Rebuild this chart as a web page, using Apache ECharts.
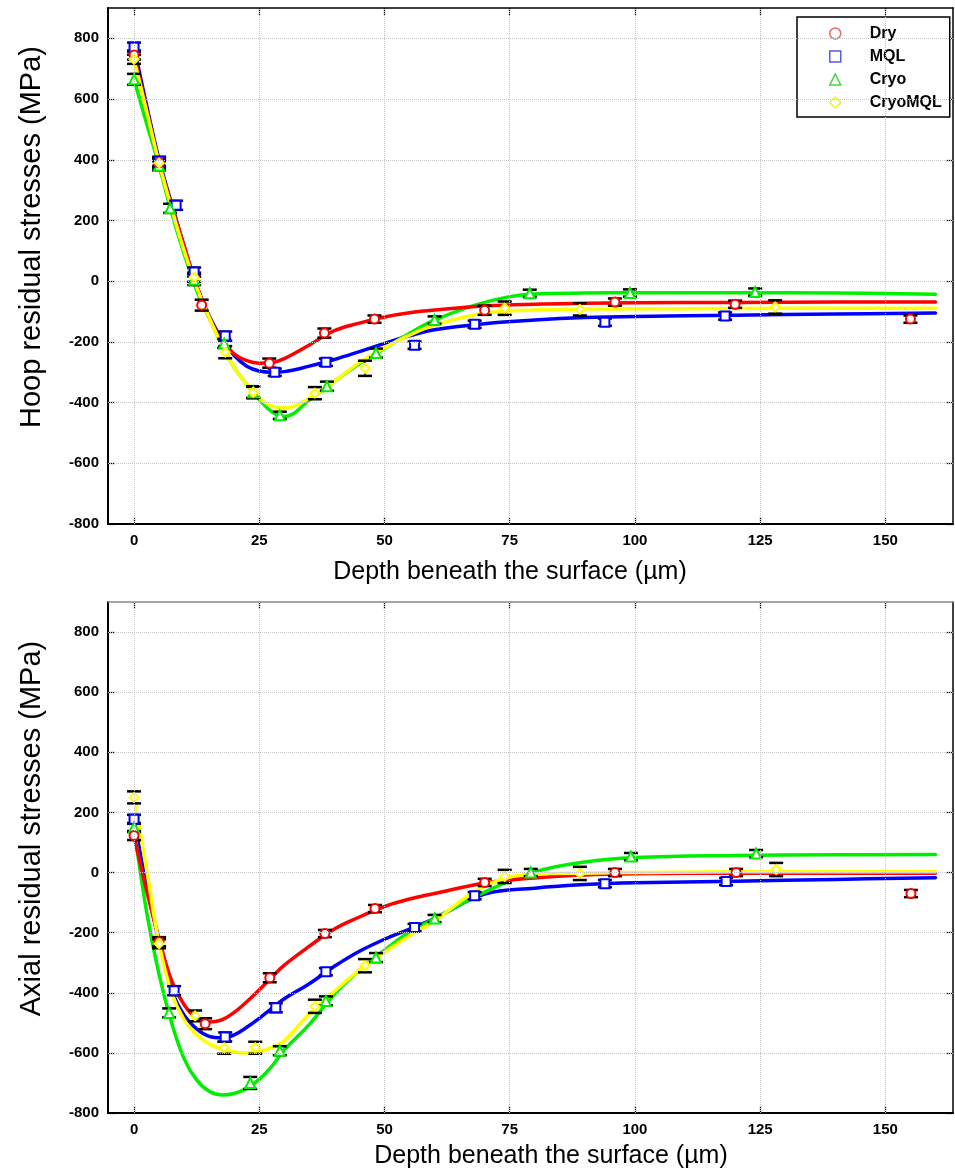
<!DOCTYPE html>
<html><head><meta charset="utf-8">
<script src="https://cdn.jsdelivr.net/npm/echarts@6/dist/echarts.min.js"></script>
<style>html,body{margin:0;padding:0;background:#fff}#c{width:955px;height:1175px}</style>
</head><body><div id="c"></div>
<script>
// ---------- DATA ----------
const seriesNames = ['Dry', 'MQL', 'Cryo', 'CryoMQL'];
const xTicks = [0, 25, 50, 75, 100, 125, 150];
const yTicks = [-800, -600, -400, -200, 0, 200, 400, 600, 800];

// Hoop residual stresses: measured points (depth, stress, error)
const hoopDryX = [0, 5, 13.5, 27, 38, 48, 70, 96, 120, 155];
const hoopDryY = [745, 390, -79, -270, -171, -125, -96, -69, -76, -125];
const hoopDryE = [15, 15, 18, 15, 15, 12, 15, 12, 12, 12];
const hoopMqlX = [0, 5, 8.4, 12, 18.2, 28.1, 38.3, 56, 68, 94, 118];
const hoopMqlY = [771, 395, 250, 30, -181, -300, -267, -211, -142, -135, -115];
const hoopMqlE = [15, 15, 15, 15, 15, 12, 12, 12, 12, 12, 12];
const hoopCryoX = [0, 5, 7.2, 12, 18, 23.8, 29.1, 38.5, 48.3, 60, 79, 99, 124];
const hoopCryoY = [665, 380, 240, 5, -205, -366, -442, -346, -237, -128, -40, -39, -36];
const hoopCryoE = [18, 15, 15, 18, 15, 18, 12, 15, 15, 12, 12, 12, 12];
const hoopCmqlX = [0, 5, 12, 18.2, 23.8, 36.1, 46.1, 74, 89, 128];
const hoopCmqlY = [731, 389, 13, -234, -366, -369, -287, -89, -93, -85];
const hoopCmqlE = [15, 15, 15, 20, 20, 20, 25, 22, 20, 22];

// Axial residual stresses: measured points
const axDryX = [0, 5, 14.2, 27.1, 38.1, 48.1, 70, 96, 120.2, 155.1];
const axDryY = [123, -230, -503, -350, -203, -120, -33, 0, 0, -70];
const axDryE = [15, 15, 18, 15, 12, 12, 12, 12, 12, 12];
const axMqlX = [0, 8, 18.2, 28.3, 38.3, 56, 68, 94, 118.2];
const axMqlY = [177, -393, -547, -450, -330, -183, -77, -37, -30];
const axMqlE = [15, 15, 15, 15, 12, 12, 12, 12, 12];
const axCryoX = [0, 7, 23.2, 29.1, 38.3, 48.3, 60, 79.2, 99.2, 124.2];
const axCryoY = [150, -467, -700, -593, -427, -283, -153, 0, 53, 63];
const axCryoE = [15, 15, 20, 15, 15, 15, 12, 12, 12, 12];
const axCmqlX = [0, 5, 12.2, 18, 24.2, 36.1, 46.1, 74, 89, 128.2];
const axCmqlY = [250, -237, -477, -583, -583, -445, -310, -13, -3, 10];
const axCmqlE = [20, 15, 18, 20, 20, 22, 22, 22, 22, 22];

// Fitted curves
const fitX = [0, 2.5, 5, 7.5, 10, 12.5, 15, 17.5, 20, 22.5, 25, 27.5, 30, 35, 40, 45, 50, 55, 60, 70, 80, 90, 100, 120, 140, 160];
const hoopFitDry  = [745, 565, 390, 250, 115, -15, -120, -195, -240, -262, -270, -268, -255, -210, -163, -138, -118, -104, -95, -82, -76, -73, -71, -70, -69, -69];
const hoopFitMql  = [771, 580, 400, 255, 115, -15, -115, -190, -245, -280, -296, -300, -298, -280, -258, -232, -205, -180, -160, -140, -128, -120, -116, -112, -108, -105];
const hoopFitCryo = [665, 520, 380, 225, 90, -30, -120, -210, -285, -340, -390, -430, -446, -392, -330, -272, -222, -172, -128, -70, -42, -39, -38, -38, -39, -43];
const hoopFitCmql = [731, 560, 389, 240, 100, -20, -120, -210, -285, -340, -385, -412, -418, -385, -330, -268, -220, -178, -145, -105, -95, -92, -91, -90, -89, -89];
const axFitDry  = [123, -60, -220, -360, -440, -485, -497, -490, -465, -430, -390, -348, -308, -245, -188, -148, -113, -88, -70, -35, -18, -8, -4, -2, -2, -2];
const axFitMql  = [177, -40, -230, -390, -475, -520, -545, -550, -540, -515, -485, -452, -420, -370, -312, -262, -222, -188, -152, -72, -52, -40, -34, -29, -23, -17];
const axFitCryo = [150, -130, -340, -500, -620, -690, -728, -740, -735, -718, -688, -645, -590, -505, -405, -325, -258, -198, -153, -65, 2, 35, 50, 57, 59, 60];
const axFitCmql = [250, 10, -237, -400, -490, -540, -570, -588, -597, -600, -596, -582, -560, -470, -395, -325, -265, -210, -160, -45, -5, -2, 0, 3, 3, 3];

// ---------- STYLE ----------
const lineColors = ['#ff0000', '#0000ff', '#00ee00', '#ffff00'];
const legendColors = ['#e86a6a', '#5a5ae6', '#3ddc3d', '#f0ee30'];
const markerSymbols = ['circle', 'rect', 'triangle', 'diamond'];
const FONT = 'Liberation Sans';

const panels = [
  { name: 'Hoop residual stresses (MPa)',
    pts: [[hoopDryX, hoopDryY, hoopDryE], [hoopMqlX, hoopMqlY, hoopMqlE], [hoopCryoX, hoopCryoY, hoopCryoE], [hoopCmqlX, hoopCmqlY, hoopCmqlE]],
    fits: [hoopFitDry, hoopFitMql, hoopFitCryo, hoopFitCmql],
    xNamePad: [0, 41, 0, 0], xNameGap: 36, topLine: '#000' },
  { name: 'Axial residual stresses (MPa)',
    pts: [[axDryX, axDryY, axDryE], [axMqlX, axMqlY, axMqlE], [axCryoX, axCryoY, axCryoE], [axCmqlX, axCmqlY, axCmqlE]],
    fits: [axFitDry, axFitMql, axFitCryo, axFitCmql],
    xNamePad: [0, 0, 0, 41], xNameGap: 31, topLine: '#888' }
];

const grids = [
  { left: 108, right: 2, top: 8, height: 516 },
  { left: 108, right: 2, top: 602, height: 511 }
];

const xAxes = [], yAxes = [], series = [];
const tickStyle = { show: true, inside: true, length: 7, lineStyle: { color: '#000', width: 1.2 } };

panels.forEach((p, g) => {
  const bx = xAxes.length, by = yAxes.length;
  xAxes.push({
    type: 'value', gridIndex: g, position: 'bottom', min: -5.2, max: 163.5,
    axisLine: { show: true, onZero: false, lineStyle: { color: '#000', width: 2 } },
    axisTick: Object.assign({ customValues: xTicks }, tickStyle),
    axisLabel: { customValues: xTicks, margin: 9, color: '#000', fontFamily: FONT, fontWeight: 'bold', fontSize: 15 },
    splitLine: { show: false },
    name: 'Depth beneath the surface (µm)', nameLocation: 'middle', nameGap: p.xNameGap,
    nameTextStyle: { fontFamily: FONT, fontSize: 25, color: '#000', padding: p.xNamePad }
  });
  xAxes.push({
    type: 'value', gridIndex: g, position: 'top', min: -5.2, max: 163.5,
    axisLine: { show: true, onZero: false, lineStyle: { color: p.topLine, width: 1.5 } },
    axisTick: Object.assign({ customValues: xTicks }, tickStyle),
    axisLabel: { show: false }, splitLine: { show: false }
  });
  yAxes.push({
    type: 'value', gridIndex: g, position: 'left', min: -800, max: 900,
    axisLine: { show: true, onZero: false, lineStyle: { color: '#000', width: 2 } },
    axisTick: Object.assign({ customValues: yTicks }, tickStyle),
    axisLabel: { customValues: yTicks, margin: 9, color: '#000', fontFamily: FONT, fontWeight: 'bold', fontSize: 15 },
    splitLine: { show: false },
    name: p.name, nameLocation: 'middle', nameGap: 62,
    nameTextStyle: { fontFamily: FONT, fontSize: 29, color: '#000', padding: [0, 0, 0, 58] }
  });
  yAxes.push({
    type: 'value', gridIndex: g, position: 'right', min: -800, max: 900,
    axisLine: { show: true, onZero: false, lineStyle: { color: '#000', width: 1.5 } },
    axisTick: Object.assign({ customValues: yTicks }, tickStyle),
    axisLabel: { show: false }, splitLine: { show: false }
  });

  // grid lines
  series.push({
    type: 'line', name: 'grid' + g, xAxisIndex: bx, yAxisIndex: by, data: [], z: 1, silent: true,
    markLine: {
      silent: true, symbol: ['none', 'none'], label: { show: false }, animation: false,
      lineStyle: { color: '#c4c4c4', type: 'dotted', width: 1 },
      data: xTicks.map(v => ({ xAxis: v })).concat(yTicks.filter(v => v > -800).map(v => ({ yAxis: v })))
    }
  });

  // fitted curves
  const order = [1, 2, 0, 3];
  order.forEach(i => {
    series.push({
      type: 'line', name: seriesNames[i] + ' fit', xAxisIndex: bx, yAxisIndex: by,
      data: fitX.map((x, k) => [x, p.fits[i][k]]),
      smooth: 0.4, showSymbol: false, z: 2, silent: true,
      lineStyle: { color: lineColors[i], width: 3.5, join: 'round', cap: 'round' }
    });
  });

  // error bars
  order.forEach(i => {
    const [xs, ys, es] = p.pts[i];
    series.push({
      type: 'custom', name: seriesNames[i] + ' err', xAxisIndex: bx, yAxisIndex: by, z: 3, silent: true,
      data: xs.map((x, k) => [x, ys[k], es[k]]),
      encode: { x: 0, y: 1 },
      renderItem: function (params, api) {
        const x = api.value(0), y = api.value(1), e = api.value(2);
        const a = api.coord([x, y + e]), b = api.coord([x, y - e]);
        const hw = 7;
        return { type: 'group', children: [
          { type: 'line', shape: { x1: a[0], y1: a[1], x2: b[0], y2: b[1] }, style: { stroke: '#000', lineWidth: 1.5 } },
          { type: 'line', shape: { x1: a[0] - hw, y1: a[1], x2: a[0] + hw, y2: a[1] }, style: { stroke: '#000', lineWidth: 2.5 } },
          { type: 'line', shape: { x1: b[0] - hw, y1: b[1], x2: b[0] + hw, y2: b[1] }, style: { stroke: '#000', lineWidth: 2.5 } }
        ] };
      }
    });
  });

  // markers
  order.forEach(i => {
    const [xs, ys] = p.pts[i];
    series.push({
      type: 'scatter', name: seriesNames[i], xAxisIndex: bx, yAxisIndex: by, z: 4,
      data: xs.map((x, k) => [x, ys[k]]),
      symbol: markerSymbols[i], symbolSize: i === 2 ? 10 : 9,
      itemStyle: { color: '#fff', borderColor: lineColors[i], borderWidth: 2, opacity: 1 }
    });
  });
});

const option = {
  animation: false,
  backgroundColor: '#fff',
  grid: grids,
  xAxis: xAxes,
  yAxis: yAxes,
  legend: {
    left: 797, top: 17, orient: 'vertical',
    backgroundColor: '#fff', borderColor: '#000', borderWidth: 1.5,
    padding: [8, 8, 6, 32], itemWidth: 11, itemHeight: 11, itemGap: 6,
    textStyle: { fontFamily: FONT, fontWeight: 'bold', fontSize: 16, lineHeight: 17, color: '#000', padding: [0, 0, 0, 24] },
    data: seriesNames.map((n, i) => ({ name: n, icon: markerSymbols[i], itemStyle: { color: '#fff', borderColor: legendColors[i], borderWidth: 1.5 } }))
  },
  series: series
};

const chart = echarts.init(document.getElementById('c'), null, { renderer: 'canvas' });
chart.setOption(option);
</script>
</body></html>
